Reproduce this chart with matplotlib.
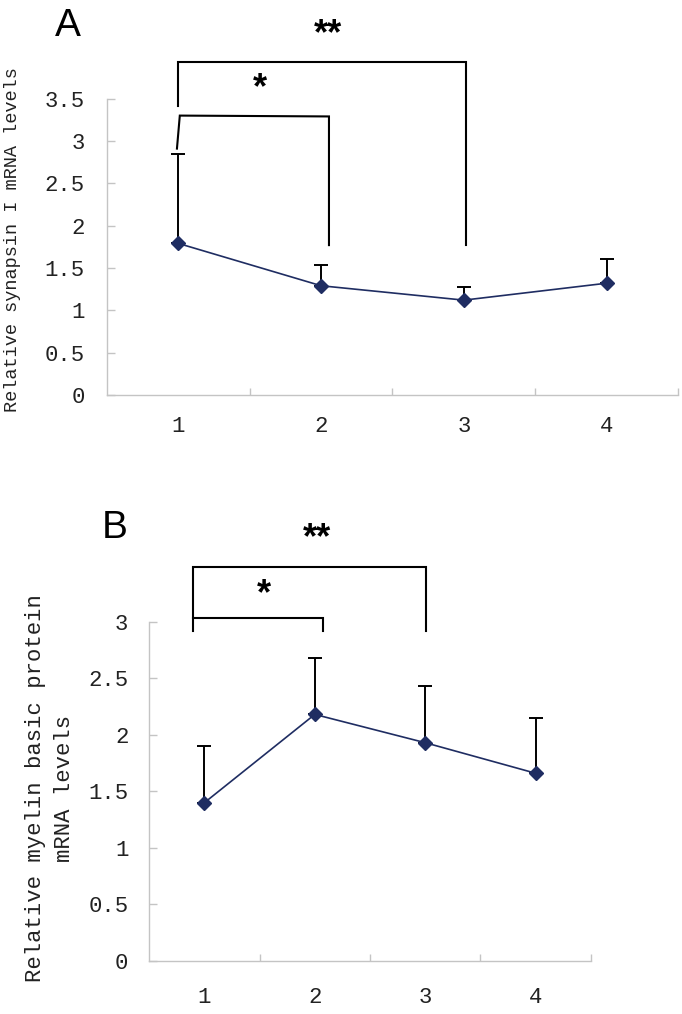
import numpy as np
import matplotlib
matplotlib.use("Agg")
import matplotlib.pyplot as plt
from matplotlib.ticker import FixedLocator, FixedFormatter

# data
groups = [1, 2, 3, 4]
group_labels = ["1", "2", "3", "4"]

syn_mean = [1.79, 1.29, 1.12, 1.32]
syn_upper = [2.85, 1.54, 1.27, 1.61]

mbp_mean = [1.40, 2.18, 1.93, 1.66]
mbp_upper = [1.90, 2.68, 2.43, 2.15]

syn_yticks = [0, 0.5, 1, 1.5, 2, 2.5, 3, 3.5]
mbp_yticks = [0, 0.5, 1, 1.5, 2, 2.5, 3]

# significance brackets (polyline x, y) and star labels
syn_brackets = [([1.0, 1.0, 3.015, 3.015], [3.41, 3.93, 3.93, 1.77]),
                ([0.99, 1.01, 2.055, 2.055], [2.91, 3.30, 3.29, 1.77])]
syn_stars = [(2.05, 4.25, "**"), (1.57, 3.62, "*")]

mbp_brackets = [([0.896, 0.896, 3.01, 3.01], [2.918, 3.486, 3.486, 2.918]),
                ([0.896, 2.07, 2.07], [3.035, 3.035, 2.918])]
mbp_stars = [(2.016, 3.73, "**"), (1.539, 3.236, "*")]

LINE_COL = "#1f2d62"
AXIS_COL = "#c4c4c4"
MONO = "Liberation Mono"

fig = plt.figure(figsize=(6.82, 10.14), dpi=100)


def style_axes(ax, yticks, ymax, xpad, ypad):
    ax.set_xlim(0.5, 4.5)
    ax.set_ylim(0, ymax)
    for s in ["top", "right"]:
        ax.spines[s].set_visible(False)
    for s in ["left", "bottom"]:
        ax.spines[s].set_color(AXIS_COL)
        ax.spines[s].set_linewidth(1.0)
    ax.yaxis.set_major_locator(FixedLocator(yticks))
    ax.yaxis.set_major_formatter(FixedFormatter([f"{t:g}" for t in yticks]))
    ax.xaxis.set_major_locator(FixedLocator(groups))
    ax.xaxis.set_major_formatter(FixedFormatter(group_labels))
    ax.xaxis.set_minor_locator(FixedLocator([1.5, 2.5, 3.5, 4.5]))
    ax.tick_params(axis="y", direction="in", length=6, width=1, color=AXIS_COL,
                   pad=ypad, labelsize=16)
    ax.tick_params(axis="x", which="major", length=0, pad=xpad, labelsize=16)
    ax.tick_params(axis="x", which="minor", direction="in", length=5, width=1,
                   color=AXIS_COL)
    for lab in ax.get_xticklabels() + ax.get_yticklabels():
        lab.set_fontfamily(MONO)
        lab.set_color("#222222")


def draw_series(ax, mean, upper):
    mean = np.array(mean)
    err = np.array(upper) - mean
    ax.errorbar(groups, mean, yerr=[np.zeros_like(err), err], fmt="none",
                ecolor="black", elinewidth=1.4, capsize=5, capthick=1.4, zorder=2)
    ax.plot(groups, mean, color=LINE_COL, lw=1.2, marker="D", markersize=7,
            markerfacecolor=LINE_COL, markeredgecolor=LINE_COL, zorder=3)


def draw_sig(ax, brackets, stars):
    for xs, ys in brackets:
        ax.plot(xs, ys, color="black", lw=1.5, clip_on=False, zorder=4,
                solid_joinstyle="miter")
    for x, y, s in stars:
        ax.text(x, y, s, ha="center", va="center", fontsize=26,
                fontweight="bold", family="Liberation Sans")


# panel A
axA = fig.add_axes([0.1569, 0.6105, 0.8372, 0.2922])
style_axes(axA, syn_yticks, 3.5, xpad=15, ypad=16)
draw_series(axA, syn_mean, syn_upper)
draw_sig(axA, syn_brackets, syn_stars)
fig.text(13 / 682, 1 - 240 / 1014, "Relative synapsin I mRNA levels",
         rotation=90, ha="center", va="center", family=MONO, fontsize=13.4,
         color="#222222")
fig.text(55 / 682, 1 - 36 / 1014, "A", family="Liberation Sans", fontsize=28,
         va="baseline", ha="left")

# panel B
axB = fig.add_axes([0.2189, 0.0523, 0.6472, 0.3346])
style_axes(axB, mbp_yticks, 3, xpad=19, ypad=15)
draw_series(axB, mbp_mean, mbp_upper)
draw_sig(axB, mbp_brackets, mbp_stars)
fig.text(50 / 682, 1 - 788 / 1014,
         "Relative myelin basic protein\nmRNA levels",
         rotation=90, ha="center", va="center", multialignment="center",
         family=MONO, fontsize=16, linespacing=1.5, color="#222222")
fig.text(102 / 682, 1 - 538 / 1014, "B", family="Liberation Sans", fontsize=28,
         va="baseline", ha="left")

fig.savefig("out.png", dpi=100)
